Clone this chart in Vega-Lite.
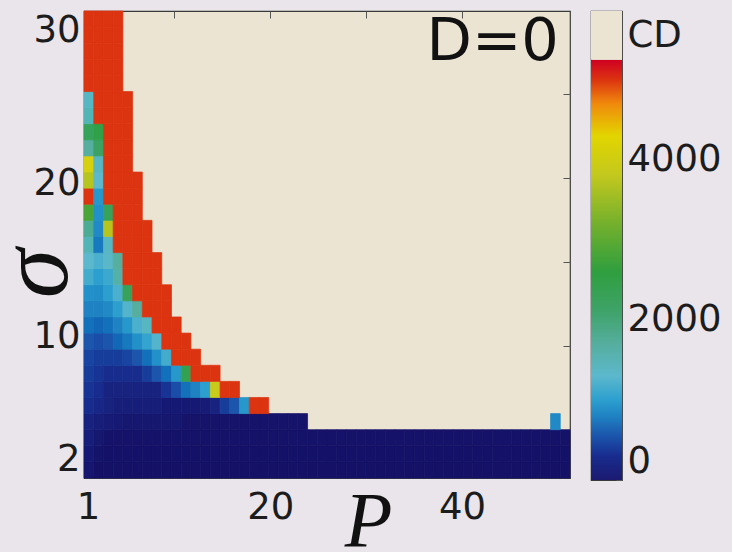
{
"$schema": "https://vega.github.io/schema/vega-lite/v6.json",
"background": "#e9e5ea",
"autosize": {"type": "none"},
"padding": {"left": 84, "top": 11, "right": 648, "bottom": 541},
"spacing": 21,
"bounds": "flush",
"config": {"font": "DejaVu Sans", "view": {"stroke": "#3a3a3a", "strokeWidth": 1.2}, "axis": {"grid": false, "labelColor": "#1c1c1c", "tickColor": "#555555", "labelFontSize": 37, "labelFont": "DejaVu Sans", "titleColor": "#111111"}},
"hconcat": [
{
"width": 486, "height": 467,
"view": {"fill": "#ece4d2", "stroke": "#3a3a3a"},
"resolve": {"scale": {"x": "independent", "y": "independent"}, "axis": {"x": "independent", "y": "independent"}},
"layer": [
{
"data": {"values": [
{"p":1,"s":2,"v":60},{"p":2,"s":2,"v":10},{"p":3,"s":2,"v":10},{"p":4,"s":2,"v":10},{"p":5,"s":2,"v":10},{"p":6,"s":2,"v":10},{"p":7,"s":2,"v":10},{"p":8,"s":2,"v":10},{"p":9,"s":2,"v":10},{"p":10,"s":2,"v":10},{"p":11,"s":2,"v":10},{"p":12,"s":2,"v":10},{"p":13,"s":2,"v":10},{"p":14,"s":2,"v":10},{"p":15,"s":2,"v":10},{"p":16,"s":2,"v":10},{"p":17,"s":2,"v":10},{"p":18,"s":2,"v":10},{"p":19,"s":2,"v":10},{"p":20,"s":2,"v":10},{"p":21,"s":2,"v":10},{"p":22,"s":2,"v":10},{"p":23,"s":2,"v":10},{"p":24,"s":2,"v":10},{"p":25,"s":2,"v":10},{"p":26,"s":2,"v":10},{"p":27,"s":2,"v":10},{"p":28,"s":2,"v":10},{"p":29,"s":2,"v":10},{"p":30,"s":2,"v":10},{"p":31,"s":2,"v":10},{"p":32,"s":2,"v":10},{"p":33,"s":2,"v":10},{"p":34,"s":2,"v":10},{"p":35,"s":2,"v":10},{"p":36,"s":2,"v":10},{"p":37,"s":2,"v":10},{"p":38,"s":2,"v":10},{"p":39,"s":2,"v":10},{"p":40,"s":2,"v":10},{"p":41,"s":2,"v":10},{"p":42,"s":2,"v":10},{"p":43,"s":2,"v":10},{"p":44,"s":2,"v":10},{"p":45,"s":2,"v":10},{"p":46,"s":2,"v":10},{"p":47,"s":2,"v":10},{"p":48,"s":2,"v":10},{"p":49,"s":2,"v":10},{"p":50,"s":2,"v":10},
{"p":1,"s":3,"v":100},{"p":2,"s":3,"v":40},{"p":3,"s":3,"v":15},{"p":4,"s":3,"v":15},{"p":5,"s":3,"v":15},{"p":6,"s":3,"v":15},{"p":7,"s":3,"v":15},{"p":8,"s":3,"v":15},{"p":9,"s":3,"v":15},{"p":10,"s":3,"v":15},{"p":11,"s":3,"v":15},{"p":12,"s":3,"v":15},{"p":13,"s":3,"v":15},{"p":14,"s":3,"v":15},{"p":15,"s":3,"v":15},{"p":16,"s":3,"v":15},{"p":17,"s":3,"v":15},{"p":18,"s":3,"v":15},{"p":19,"s":3,"v":15},{"p":20,"s":3,"v":15},{"p":21,"s":3,"v":15},{"p":22,"s":3,"v":15},{"p":23,"s":3,"v":15},{"p":24,"s":3,"v":15},{"p":25,"s":3,"v":15},{"p":26,"s":3,"v":15},{"p":27,"s":3,"v":15},{"p":28,"s":3,"v":15},{"p":29,"s":3,"v":15},{"p":30,"s":3,"v":15},{"p":31,"s":3,"v":15},{"p":32,"s":3,"v":15},{"p":33,"s":3,"v":15},{"p":34,"s":3,"v":15},{"p":35,"s":3,"v":15},{"p":36,"s":3,"v":15},{"p":37,"s":3,"v":15},{"p":38,"s":3,"v":15},{"p":39,"s":3,"v":15},{"p":40,"s":3,"v":15},{"p":41,"s":3,"v":15},{"p":42,"s":3,"v":15},{"p":43,"s":3,"v":15},{"p":44,"s":3,"v":15},{"p":45,"s":3,"v":15},{"p":46,"s":3,"v":15},{"p":47,"s":3,"v":15},{"p":48,"s":3,"v":15},{"p":49,"s":3,"v":15},{"p":50,"s":3,"v":15},
{"p":1,"s":4,"v":150},{"p":2,"s":4,"v":80},{"p":3,"s":4,"v":20},{"p":4,"s":4,"v":20},{"p":5,"s":4,"v":20},{"p":6,"s":4,"v":20},{"p":7,"s":4,"v":20},{"p":8,"s":4,"v":20},{"p":9,"s":4,"v":20},{"p":10,"s":4,"v":20},{"p":11,"s":4,"v":20},{"p":12,"s":4,"v":20},{"p":13,"s":4,"v":20},{"p":14,"s":4,"v":20},{"p":15,"s":4,"v":20},{"p":16,"s":4,"v":20},{"p":17,"s":4,"v":20},{"p":18,"s":4,"v":20},{"p":19,"s":4,"v":20},{"p":20,"s":4,"v":20},{"p":21,"s":4,"v":20},{"p":22,"s":4,"v":20},{"p":23,"s":4,"v":20},{"p":24,"s":4,"v":20},{"p":25,"s":4,"v":20},{"p":26,"s":4,"v":20},{"p":27,"s":4,"v":20},{"p":28,"s":4,"v":20},{"p":29,"s":4,"v":20},{"p":30,"s":4,"v":20},{"p":31,"s":4,"v":20},{"p":32,"s":4,"v":20},{"p":33,"s":4,"v":20},{"p":34,"s":4,"v":20},{"p":35,"s":4,"v":20},{"p":36,"s":4,"v":20},{"p":37,"s":4,"v":20},{"p":38,"s":4,"v":20},{"p":39,"s":4,"v":20},{"p":40,"s":4,"v":20},{"p":41,"s":4,"v":20},{"p":42,"s":4,"v":20},{"p":43,"s":4,"v":20},{"p":44,"s":4,"v":20},{"p":45,"s":4,"v":20},{"p":46,"s":4,"v":20},{"p":47,"s":4,"v":20},{"p":48,"s":4,"v":20},{"p":49,"s":4,"v":20},{"p":50,"s":4,"v":20},
{"p":1,"s":5,"v":200},{"p":2,"s":5,"v":150},{"p":3,"s":5,"v":120},{"p":4,"s":5,"v":100},{"p":5,"s":5,"v":70},{"p":6,"s":5,"v":70},{"p":7,"s":5,"v":70},{"p":8,"s":5,"v":70},{"p":9,"s":5,"v":70},{"p":10,"s":5,"v":70},{"p":11,"s":5,"v":30},{"p":12,"s":5,"v":30},{"p":13,"s":5,"v":30},{"p":14,"s":5,"v":30},{"p":15,"s":5,"v":30},{"p":16,"s":5,"v":30},{"p":17,"s":5,"v":30},{"p":18,"s":5,"v":30},{"p":19,"s":5,"v":30},{"p":20,"s":5,"v":30},{"p":21,"s":5,"v":30},{"p":22,"s":5,"v":30},{"p":23,"s":5,"v":30},{"p":49,"s":5,"v":850},
{"p":1,"s":6,"v":300},{"p":2,"s":6,"v":250},{"p":3,"s":6,"v":200},{"p":4,"s":6,"v":150},{"p":5,"s":6,"v":150},{"p":6,"s":6,"v":150},{"p":7,"s":6,"v":150},{"p":8,"s":6,"v":150},{"p":9,"s":6,"v":100},{"p":10,"s":6,"v":100},{"p":11,"s":6,"v":100},{"p":12,"s":6,"v":100},{"p":13,"s":6,"v":120},{"p":14,"s":6,"v":200},{"p":15,"s":6,"v":400},{"p":16,"s":6,"v":550},{"p":17,"s":6,"v":950},{"p":18,"s":6,"v":5000},{"p":19,"s":6,"v":5000},
{"p":1,"s":7,"v":350},{"p":2,"s":7,"v":300},{"p":3,"s":7,"v":200},{"p":4,"s":7,"v":200},{"p":5,"s":7,"v":200},{"p":6,"s":7,"v":200},{"p":7,"s":7,"v":200},{"p":8,"s":7,"v":200},{"p":9,"s":7,"v":350},{"p":10,"s":7,"v":500},{"p":11,"s":7,"v":700},{"p":12,"s":7,"v":800},{"p":13,"s":7,"v":1000},{"p":14,"s":7,"v":3900},{"p":15,"s":7,"v":5000},{"p":16,"s":7,"v":5000},
{"p":1,"s":8,"v":400},{"p":2,"s":8,"v":350},{"p":3,"s":8,"v":300},{"p":4,"s":8,"v":300},{"p":5,"s":8,"v":300},{"p":6,"s":8,"v":300},{"p":7,"s":8,"v":400},{"p":8,"s":8,"v":550},{"p":9,"s":8,"v":700},{"p":10,"s":8,"v":950},{"p":11,"s":8,"v":2400},{"p":12,"s":8,"v":5000},{"p":13,"s":8,"v":5000},{"p":14,"s":8,"v":5000},
{"p":1,"s":9,"v":450},{"p":2,"s":9,"v":400},{"p":3,"s":9,"v":400},{"p":4,"s":9,"v":400},{"p":5,"s":9,"v":450},{"p":6,"s":9,"v":550},{"p":7,"s":9,"v":700},{"p":8,"s":9,"v":900},{"p":9,"s":9,"v":1150},{"p":10,"s":9,"v":5000},{"p":11,"s":9,"v":5000},{"p":12,"s":9,"v":5000},
{"p":1,"s":10,"v":550},{"p":2,"s":10,"v":500},{"p":3,"s":10,"v":550},{"p":4,"s":10,"v":650},{"p":5,"s":10,"v":750},{"p":6,"s":10,"v":900},{"p":7,"s":10,"v":1050},{"p":8,"s":10,"v":1250},{"p":9,"s":10,"v":5000},{"p":10,"s":10,"v":5000},{"p":11,"s":10,"v":5000},
{"p":1,"s":11,"v":700},{"p":2,"s":11,"v":650},{"p":3,"s":11,"v":700},{"p":4,"s":11,"v":800},{"p":5,"s":11,"v":950},{"p":6,"s":11,"v":1200},{"p":7,"s":11,"v":1400},{"p":8,"s":11,"v":5000},{"p":9,"s":11,"v":5000},{"p":10,"s":11,"v":5000},
{"p":1,"s":12,"v":800},{"p":2,"s":12,"v":800},{"p":3,"s":12,"v":850},{"p":4,"s":12,"v":1000},{"p":5,"s":12,"v":1250},{"p":6,"s":12,"v":1700},{"p":7,"s":12,"v":5000},{"p":8,"s":12,"v":5000},{"p":9,"s":12,"v":5000},
{"p":1,"s":13,"v":900},{"p":2,"s":13,"v":880},{"p":3,"s":13,"v":1000},{"p":4,"s":13,"v":1200},{"p":5,"s":13,"v":2300},{"p":6,"s":13,"v":5000},{"p":7,"s":13,"v":5000},{"p":8,"s":13,"v":5000},{"p":9,"s":13,"v":5000},
{"p":1,"s":14,"v":1150},{"p":2,"s":14,"v":1000},{"p":3,"s":14,"v":1100},{"p":4,"s":14,"v":1600},{"p":5,"s":14,"v":5000},{"p":6,"s":14,"v":5000},{"p":7,"s":14,"v":5000},{"p":8,"s":14,"v":5000},
{"p":1,"s":15,"v":1300},{"p":2,"s":15,"v":1200},{"p":3,"s":15,"v":1350},{"p":4,"s":15,"v":1700},{"p":5,"s":15,"v":5000},{"p":6,"s":15,"v":5000},{"p":7,"s":15,"v":5000},{"p":8,"s":15,"v":5000},
{"p":1,"s":16,"v":1500},{"p":2,"s":16,"v":750},{"p":3,"s":16,"v":1400},{"p":4,"s":16,"v":5000},{"p":5,"s":16,"v":5000},{"p":6,"s":16,"v":5000},{"p":7,"s":16,"v":5000},
{"p":1,"s":17,"v":1800},{"p":2,"s":17,"v":850},{"p":3,"s":17,"v":3700},{"p":4,"s":17,"v":5000},{"p":5,"s":17,"v":5000},{"p":6,"s":17,"v":5000},{"p":7,"s":17,"v":5000},
{"p":1,"s":18,"v":2800},{"p":2,"s":18,"v":900},{"p":3,"s":18,"v":2300},{"p":4,"s":18,"v":5000},{"p":5,"s":18,"v":5000},{"p":6,"s":18,"v":5000},
{"p":1,"s":19,"v":5000},{"p":2,"s":19,"v":950},{"p":3,"s":19,"v":5000},{"p":4,"s":19,"v":5000},{"p":5,"s":19,"v":5000},{"p":6,"s":19,"v":5000},
{"p":1,"s":20,"v":3700},{"p":2,"s":20,"v":1300},{"p":3,"s":20,"v":5000},{"p":4,"s":20,"v":5000},{"p":5,"s":20,"v":5000},{"p":6,"s":20,"v":5000},
{"p":1,"s":21,"v":4100},{"p":2,"s":21,"v":1400},{"p":3,"s":21,"v":5000},{"p":4,"s":21,"v":5000},{"p":5,"s":21,"v":5000},
{"p":1,"s":22,"v":1700},{"p":2,"s":22,"v":2200},{"p":3,"s":22,"v":5000},{"p":4,"s":22,"v":5000},{"p":5,"s":22,"v":5000},
{"p":1,"s":23,"v":2300},{"p":2,"s":23,"v":2500},{"p":3,"s":23,"v":5000},{"p":4,"s":23,"v":5000},{"p":5,"s":23,"v":5000},
{"p":1,"s":24,"v":1500},{"p":2,"s":24,"v":5000},{"p":3,"s":24,"v":5000},{"p":4,"s":24,"v":5000},{"p":5,"s":24,"v":5000},
{"p":1,"s":25,"v":1400},{"p":2,"s":25,"v":5000},{"p":3,"s":25,"v":5000},{"p":4,"s":25,"v":5000},{"p":5,"s":25,"v":5000},
{"p":1,"s":26,"v":5000},{"p":2,"s":26,"v":5000},{"p":3,"s":26,"v":5000},{"p":4,"s":26,"v":5000},
{"p":1,"s":27,"v":5000},{"p":2,"s":27,"v":5000},{"p":3,"s":27,"v":5000},{"p":4,"s":27,"v":5000},
{"p":1,"s":28,"v":5000},{"p":2,"s":28,"v":5000},{"p":3,"s":28,"v":5000},{"p":4,"s":28,"v":5000},
{"p":1,"s":29,"v":5000},{"p":2,"s":29,"v":5000},{"p":3,"s":29,"v":5000},{"p":4,"s":29,"v":5000},
{"p":1,"s":30,"v":5000},{"p":2,"s":30,"v":5000},{"p":3,"s":30,"v":5000},{"p":4,"s":30,"v":5000}
]},
"mark": {"type": "rect", "strokeWidth": 0.7},
"encoding": {
"x": {"field": "p", "type": "ordinal", "scale": {"paddingInner": 0, "paddingOuter": 0}, "axis": null},
"y": {"field": "s", "type": "ordinal", "sort": "descending", "scale": {"paddingInner": 0, "paddingOuter": 0}, "axis": null},
"color": {"field": "v", "type": "quantitative", "legend": null,
 "scale": {"domain": [0, 300, 550, 800, 1000, 1300, 1700, 2100, 2600, 3200, 3800, 4300, 4700, 5000, 5250],
  "range": ["#141066", "#182c8e", "#1b55ac", "#1f82c2", "#2c9fcf", "#5cb8cc", "#55ae9e", "#3fa36a", "#2f9f3f", "#74b02c", "#c2c81e", "#e2d500", "#f08a0c", "#dc3410", "#cf0022"]}},
"stroke": {"field": "v", "type": "quantitative", "legend": null,
 "scale": {"domain": [0, 300, 550, 800, 1000, 1300, 1700, 2100, 2600, 3200, 3800, 4300, 4700, 5000, 5250],
  "range": ["#141066", "#182c8e", "#1b55ac", "#1f82c2", "#2c9fcf", "#5cb8cc", "#55ae9e", "#3fa36a", "#2f9f3f", "#74b02c", "#c2c81e", "#e2d500", "#f08a0c", "#dc3410", "#cf0022"]}}
}
},
{
"data": {"values": [{"label": "D=0"}]},
"mark": {"type": "text", "align": "right", "baseline": "alphabetic", "fontSize": 59, "font": "DejaVu Sans", "color": "#111111"},
"encoding": {
 "x": {"datum": 50.1, "type": "quantitative", "scale": {"domain": [0.58, 51.26], "nice": false, "zero": false},
  "axis": {"orient": "bottom", "values": [1, 10, 20, 30, 40], "labelExpr": "datum.value==10||datum.value==30?'':datum.label", "labelAngle": 0, "labelOverlap": false, "labelFlush": false, "tickSize": -7, "labelPadding": 18, "domain": false, "labelBaseline": "top",
   "title": "P", "titleFont": "Liberation Serif", "titleFontStyle": "italic", "titleFontWeight": "normal", "titleFontSize": 78, "titleX": 284, "titleY": 67, "titleBaseline": "alphabetic", "titleAlign": "center"}},
 "y": {"datum": 28.12, "type": "quantitative", "scale": {"domain": [0.79, 31.29], "nice": false, "zero": false},
  "axis": {"orient": "left", "values": [2, 10, 20, 30], "ticks": false, "labelPadding": 4, "domain": false, "labelOverlap": false, "labelFlush": false,
   "title": "σ", "titleFont": "Liberation Serif", "titleFontStyle": "italic", "titleFontWeight": "normal", "titleFontSize": 100, "titleAngle": -90, "titleX": -18, "titleY": 262, "titleBaseline": "alphabetic", "titleAlign": "center"}},
 "text": {"field": "label"}
}
},
{
"data": {"values": [{}]},
"mark": {"type": "point", "opacity": 0},
"encoding": {
 "x": {"datum": 25, "type": "quantitative", "scale": {"domain": [0.58, 51.26], "nice": false, "zero": false},
  "axis": {"orient": "top", "values": [10, 20, 30, 40], "labels": false, "tickSize": -7, "domain": false, "title": null}},
 "y": {"datum": 10, "type": "quantitative", "scale": {"domain": [0.79, 31.29], "nice": false, "zero": false},
  "axis": {"orient": "right", "values": [3.93, 9.41, 14.9, 20.38, 25.87], "labels": false, "tickSize": -7, "domain": false, "title": null}}
}
}
]
},
{
"width": 31, "height": 469,
"view": {"stroke": "#3a3a3a"},
"data": {"values": [{"part": "scale", "lo": 0, "hi": 5250}, {"part": "CD", "lo": 5250, "hi": 5860}]},
"encoding": {
 "y": {"field": "lo", "type": "quantitative", "scale": {"domain": [0, 5860], "nice": false, "zero": true},
  "axis": {"orient": "right", "values": [0, 1000, 2000, 3000, 4000, 5000, 5555], "format": "d", "labelExpr": "datum.value==5555?'CD':(datum.value%2000==0?datum.label:'')", "labelFlush": true, "tickSize": -6, "labelPadding": 11, "domain": false, "title": null}},
 "y2": {"field": "hi"}
},
"layer": [
{"transform": [{"filter": "datum.part=='scale'"}],
 "mark": {"type": "rect", "color": {"gradient": "linear", "x1": 0, "y1": 1, "x2": 0, "y2": 0, "stops": [
  {"offset": 0, "color": "#1c1a70"}, {"offset": 0.057, "color": "#182c8e"}, {"offset": 0.105, "color": "#1b55ac"}, {"offset": 0.152, "color": "#1f82c2"}, {"offset": 0.19, "color": "#2c9fcf"}, {"offset": 0.248, "color": "#5cb8cc"}, {"offset": 0.324, "color": "#55ae9e"}, {"offset": 0.4, "color": "#3fa36a"}, {"offset": 0.495, "color": "#2f9f3f"}, {"offset": 0.61, "color": "#74b02c"}, {"offset": 0.724, "color": "#c2c81e"}, {"offset": 0.819, "color": "#e2d500"}, {"offset": 0.895, "color": "#f08a0c"}, {"offset": 0.952, "color": "#dc3410"}, {"offset": 1, "color": "#cf0022"}]}}},
{"transform": [{"filter": "datum.part=='CD'"}],
 "mark": {"type": "rect", "color": "#ece4d2"}}
]
}
]
}
